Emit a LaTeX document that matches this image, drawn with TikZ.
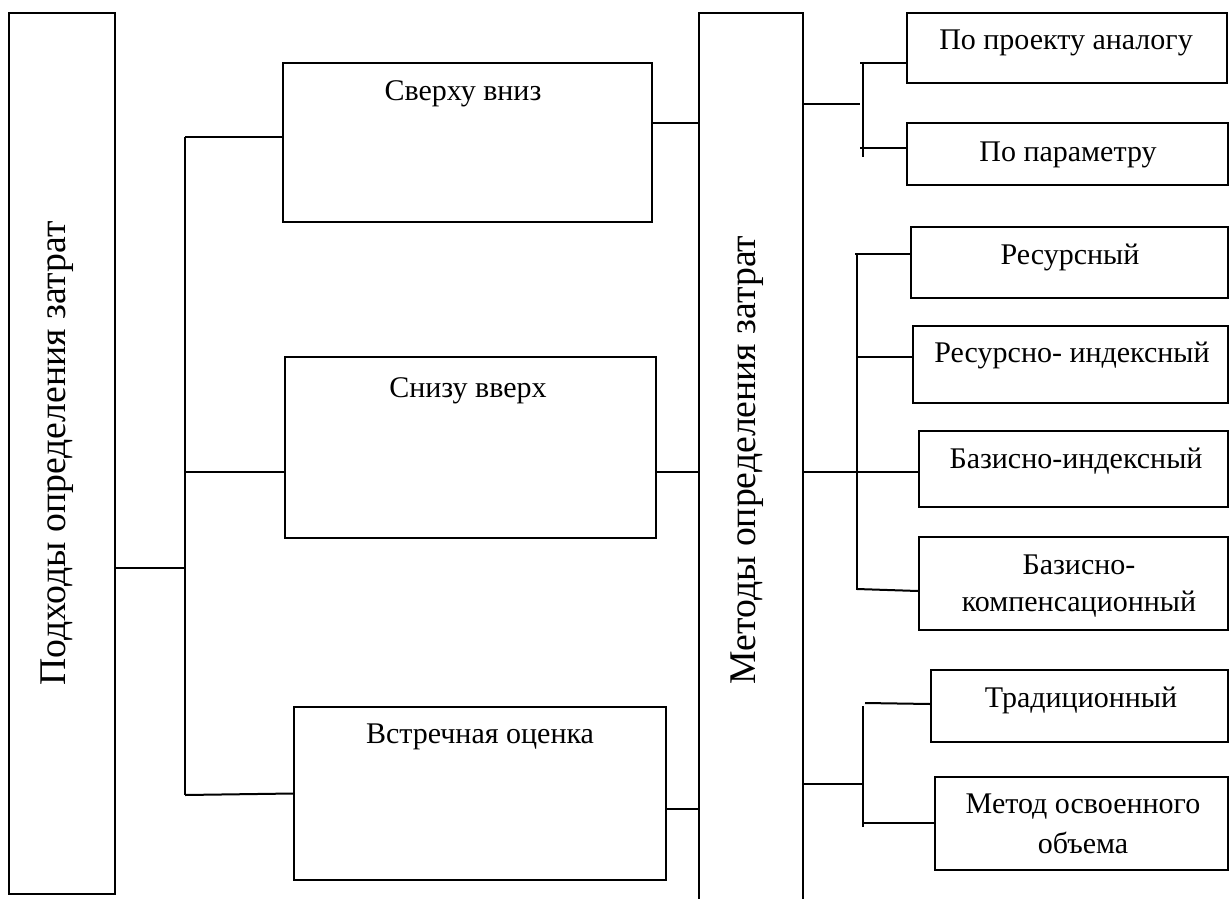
\documentclass[tikz,border=0pt]{standalone}
\usepackage{fontspec}
\setmainfont{Liberation Serif}
\usetikzlibrary{calc}

\tikzset{
  box/.style={draw, line width=2pt, inner sep=0pt, rectangle},
  lbl/.style={inner sep=0pt, anchor=base, align=center, font=\fontsize{30}{38}\selectfont},
  vlbl/.style={inner sep=0pt, anchor=base, rotate=90, font=\fontsize{37.7}{40}\selectfont},
  conn/.style={line width=2pt},
}

\begin{document}
\begin{tikzpicture}[x=1pt, y=-1pt, line join=miter]
  \useasboundingbox (0,0) rectangle (1229,899);

  % left column: approaches
  \node[box, minimum width=106pt, minimum height=881pt] (L) at (62,453.5) {};
  \node[vlbl] (Ltxt) at (65,453.5) {Подходы определения затрат};

  % middle column
  \node[box, minimum width=369pt, minimum height=159pt] (b1) at (467.5,142.5) {};
  \node[box, minimum width=371pt, minimum height=181pt] (b2) at (470.5,447.5) {};
  \node[box, minimum width=372pt, minimum height=173pt] (b3) at (480,793.5) {};
  \node[lbl] (t1) at (463,100) {Сверху вниз};
  \node[lbl] (t2) at (468,397) {Снизу вверх};
  \node[lbl] (t3) at (480,743) {Встречная оценка};

  % methods column, open at the bottom
  \node[inner sep=0pt, minimum width=104pt, minimum height=886pt] (M) at (751,456) {};
  \draw[conn] (M.south west) -- (M.north west) -- (M.north east) -- (M.south east);
  \node[vlbl] (Mtxt) at (755,460) {Методы определения затрат};

  % right column
  \node[box, minimum width=320pt, minimum height=70pt] (PA) at (1067,48) {};
  \node[box, minimum width=321pt, minimum height=62pt] (PP) at (1067.5,154) {};
  \node[box, minimum width=317pt, minimum height=71pt] (R)  at (1069.5,262.5) {};
  \node[box, minimum width=315pt, minimum height=77pt] (RI) at (1070.5,364.5) {};
  \node[box, minimum width=309pt, minimum height=76pt] (BI) at (1073.5,469) {};
  \node[box, minimum width=309pt, minimum height=93pt] (BK) at (1073.5,583.5) {};
  \node[box, minimum width=297pt, minimum height=72pt] (T)  at (1079.5,706) {};
  \node[box, minimum width=293pt, minimum height=93pt] (MO) at (1081.5,823.5) {};

  \node[lbl] (tPA) at (1066,50)  {По проекту аналогу};
  \node[lbl] (tPP) at (1068,161) {По параметру};
  \node[lbl] (tR)  at (1070,264) {Ресурсный};
  \node[lbl] (tRI) at (1072,362) {Ресурсно- индексный};
  \node[lbl] (tBI) at (1076,468) {Базисно-индексный};
  % two-line labels sit on the baseline of their last line
  \node[lbl] (tBK) at (1079,611) {Базисно-\\[-1pt]компенсационный};
  \node[lbl] (tT)  at (1081,707) {Традиционный};
  \node[lbl] (tMO) at (1083,853) {Метод освоенного\\[2pt]объема};

  % left spine
  \coordinate (s1t) at (185,137);
  \coordinate (s1m) at (185,568);
  \coordinate (s1c) at (185,472);
  \coordinate (s1b) at (185,795);
  \draw[conn] (s1t) -- (s1b);
  \draw[conn] (L.east |- s1m) -- (s1m);
  \draw[conn] (s1t) -- (s1t -| b1.west);
  \draw[conn] (s1c) -- (s1c -| b2.west);
  \draw[conn] (s1b) -- (b3.west);

  % middle boxes into the methods column
  \coordinate (y1) at (0,123);
  \coordinate (y2) at (0,472);
  \coordinate (y3) at (0,809);
  \draw[conn] (b1.east |- y1) -- (M.west |- y1);
  \draw[conn] ($(b2.east |- y2)+(-2,0)$) -- (M.west |- y2);
  \draw[conn] (b3.east |- y3) -- (M.west |- y3);

  % first right bracket
  \coordinate (s2t) at (863,62);
  \coordinate (s2b) at (863,157);
  \coordinate (s2a) at (860,63);
  \coordinate (s2c) at (860,148);
  \coordinate (s2m) at (860,104);
  \draw[conn] (s2t) -- (s2b);
  \draw[conn] (s2a) -- (s2a -| PA.west);
  \draw[conn] (s2c) -- (s2c -| PP.west);
  \draw[conn] (M.east |- s2m) -- (s2m);

  % second right bracket
  \coordinate (s3t) at (857,254);
  \coordinate (s3b) at (857,590);
  \coordinate (s3a) at (855,254);
  \coordinate (s3r) at (857,357);
  \coordinate (s3m) at (857,472);
  \coordinate (s3k) at (857,589);
  \draw[conn] (s3t) -- (s3b);
  \draw[conn] (s3a) -- ($(s3a -| R.west)+(2,0)$);
  \draw[conn] (s3r) -- (s3r -| RI.west);
  \draw[conn] (M.east |- s3m) -- (s3m -| BI.west);
  \draw[conn] (s3k) -- ($(s3k -| BK.west)+(0,2)$);

  % third right bracket
  \coordinate (s4t) at (863,706);
  \coordinate (s4b) at (863,827);
  \coordinate (s4a) at (865,703);
  \coordinate (s4c) at (863,823);
  \coordinate (s4m) at (863,784);
  \draw[conn] (s4t) -- (s4b);
  \draw[conn] (s4a) -- ($(s4a -| T.west)+(0,1)$);
  \draw[conn] (s4c) -- (s4c -| MO.west);
  \draw[conn] (M.east |- s4m) -- (s4m);
\end{tikzpicture}
\end{document}
